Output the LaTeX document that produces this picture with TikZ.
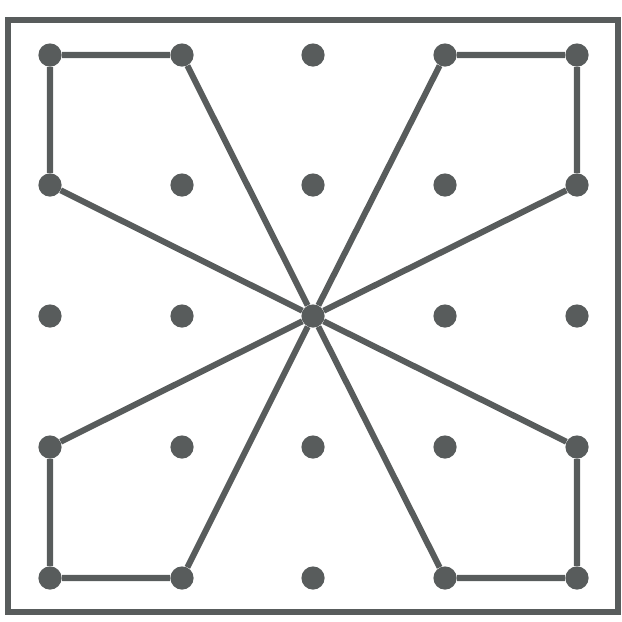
\documentclass[tikz,border=0pt]{standalone}
\definecolor{pegcol}{RGB}{88,92,92}
\tikzset{
  peg/.style={circle, fill=pegcol, minimum size=0.58cm, inner sep=0pt},
  band/.style={pegcol, line width=4.3pt}
}
\begin{document}
\begin{tikzpicture}[x=0.025cm, y=-0.025cm]
    \useasboundingbox (0,0) rectangle (622,621);
    \draw[pegcol, line width=4.5pt] (8,20) rectangle (618,612);

    \foreach \c/\x in {0/50, 1/182, 2/313, 3/445, 4/577} {
        \foreach \r/\y in {0/55, 1/185, 2/316, 3/447, 4/578} {
            \node[peg] (p\c\r) at (\x, \y) {};
        }
    }

    \draw[band] (p00) -- (p10) -- (p22) -- (p01) -- (p00);
    \draw[band] (p30) -- (p40) -- (p41) -- (p22) -- (p30);
    \draw[band] (p03) -- (p04) -- (p14) -- (p22) -- (p03);
    \draw[band] (p34) -- (p44) -- (p43) -- (p22) -- (p34);
\end{tikzpicture}
\end{document}
